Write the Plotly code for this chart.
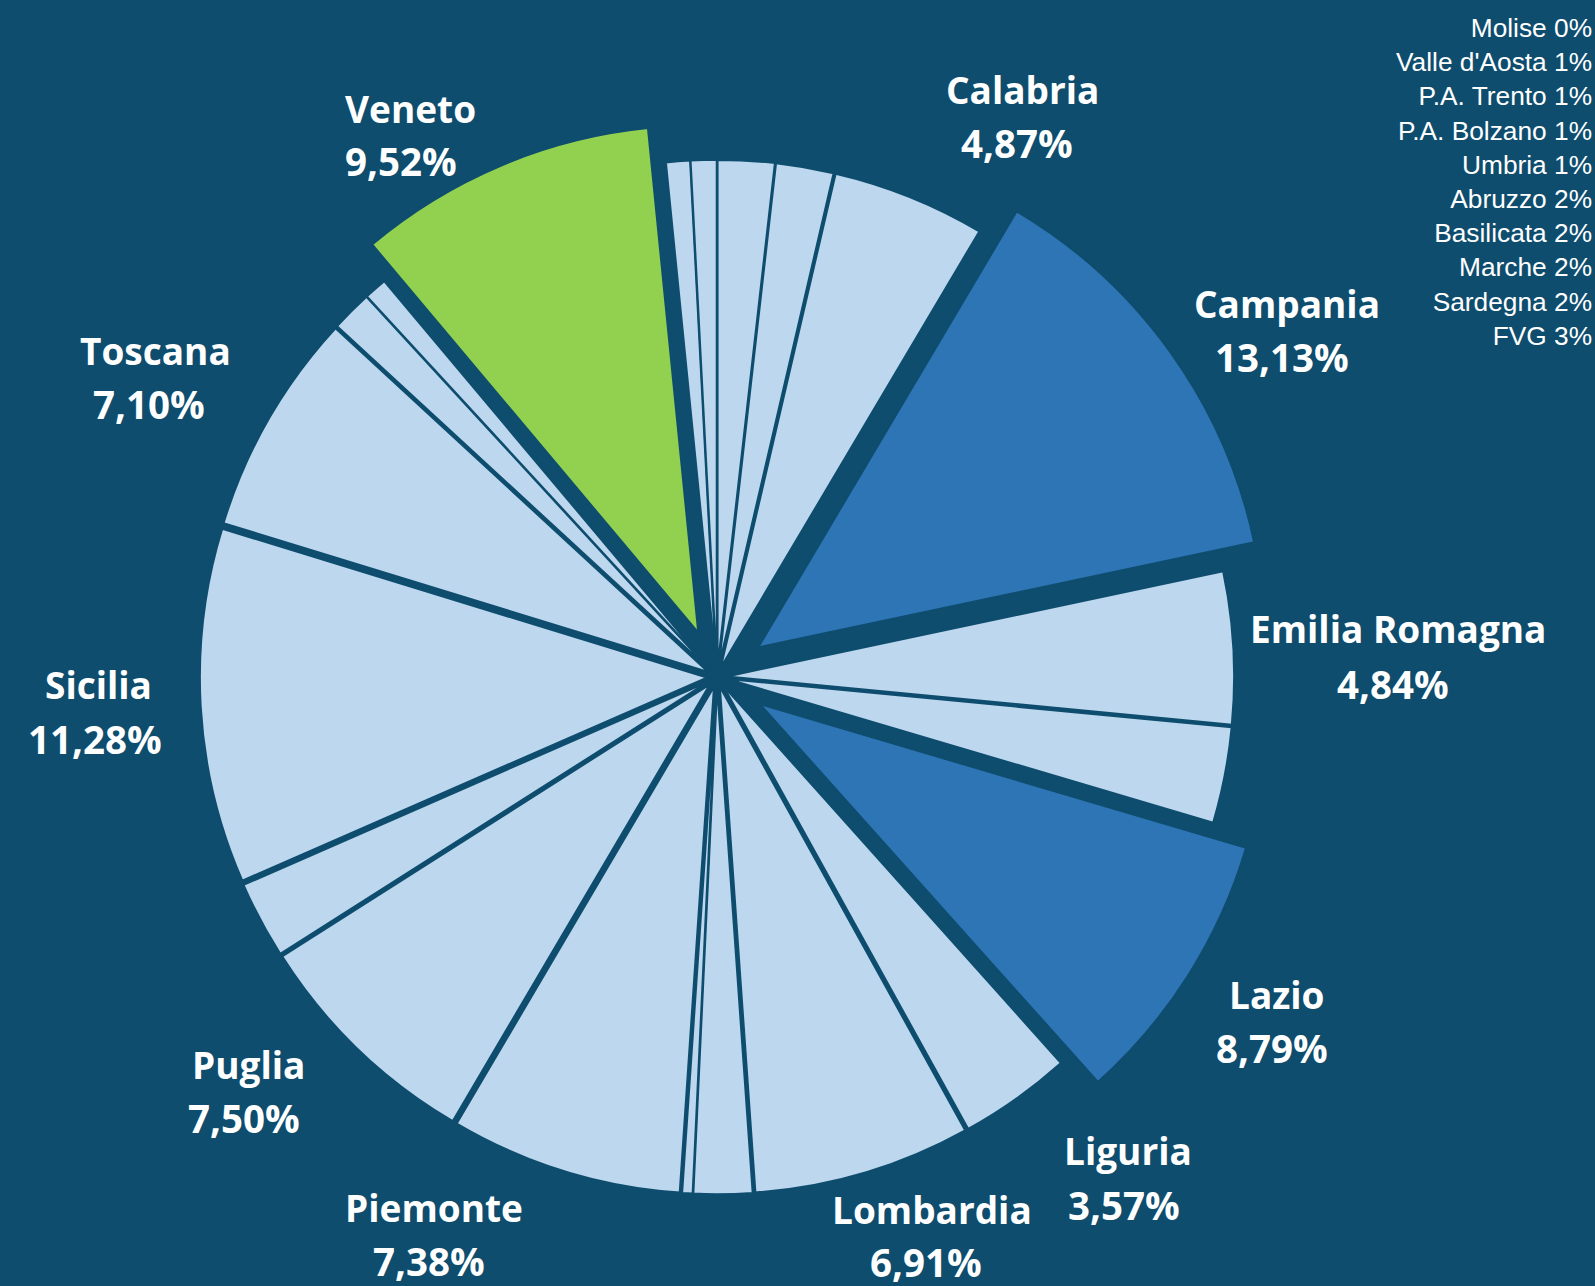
import plotly.graph_objects as go

# ---- data (clockwise from 12 o'clock) ----
regions = ["Abruzzo", "Basilicata", "Calabria", "Campania", "Emilia Romagna", "FVG",
           "Lazio", "Liguria", "Lombardia", "Marche", "Molise", "Piemonte", "Puglia",
           "Sardegna", "Sicilia", "Toscana", "Umbria", "Valle d'Aosta", "Veneto",
           "P.A. Trento", "P.A. Bolzano"]
shares = [1.80, 1.83, 4.87, 13.13, 4.84, 3.05,
          8.79, 3.57, 6.91, 1.86, 0.33, 7.38, 7.50,
          2.45, 11.28, 7.10, 1.30, 0.72, 9.52,
          0.76, 0.82]
labelled = ["Calabria", "Campania", "Emilia Romagna", "Lazio", "Liguria", "Lombardia",
            "Piemonte", "Puglia", "Sicilia", "Toscana", "Veneto"]
dark_blue = ["Campania", "Lazio"]
green = ["Veneto"]

# ---- styles ----
BG = "#0e4d6e"
LIGHT = "#bdd7ee"
MID = "#2e75b6"
GREEN = "#92d050"
W, H = 1595, 1286

colors = [MID if r in dark_blue else GREEN if r in green else LIGHT for r in regions]
pulls = [0.1 if r in dark_blue else 0.095 if r in green else 0.02 for r in regions]

# pie geometry (pixels)
cx, cy, r = 717, 677, 507
half = r * (1 + max(pulls))
dom_x = [(cx - half) / W, (cx + half) / W]
dom_y = [1 - (cy + half) / H, 1 - (cy - half) / H]

fig = go.Figure(go.Pie(
    labels=regions, values=shares, sort=False, direction="clockwise", rotation=0,
    marker=dict(colors=colors, line=dict(color=BG, width=2)),
    pull=pulls, textinfo="none", hoverinfo="label+percent",
    domain=dict(x=dom_x, y=dom_y), showlegend=False,
))

# label placement (pixel centres: x name, y name, x pct, y pct)
label_pos = {
    "Calabria": (1022, 90, 1017, 143),
    "Campania": (1287, 303, 1282, 357),
    "Emilia Romagna": (1398, 628, 1393, 684),
    "Lazio": (1277, 994, 1272, 1048),
    "Liguria": (1128, 1150, 1124, 1205),
    "Lombardia": (932, 1209, 926, 1262),
    "Piemonte": (434, 1207, 429, 1261),
    "Puglia": (248, 1064, 244, 1118),
    "Sicilia": (98, 684, 95, 739),
    "Toscana": (155, 350, 149, 404),
    "Veneto": (410, 108, 401, 161),
}
name_font = dict(family="Open Sans", size=37, color="white")
pct_font = dict(family="Open Sans", size=38.5, color="white")
annotations = []
for reg in labelled:
    v = shares[regions.index(reg)]
    xn, yn, xp, yp = label_pos[reg]
    pct = f"{v:.2f}".replace(".", ",") + "%"
    annotations.append(dict(x=xn / W, y=1 - yn / H, xref="paper", yref="paper",
                            text=f"<b>{reg}</b>", showarrow=False, font=name_font,
                            xanchor="center", yanchor="middle"))
    annotations.append(dict(x=xp / W, y=1 - yp / H, xref="paper", yref="paper",
                            text=f"<b>{pct}</b>", showarrow=False, font=pct_font,
                            xanchor="center", yanchor="middle"))

# small regions list (top right), sorted by share
small = [(reg, v) for reg, v in zip(regions, shares) if reg not in labelled]
small_sorted = sorted(small, key=lambda t: t[1])
small_text = "<br>".join(f"{reg} {round(v)}%" for reg, v in small_sorted)
annotations.append(dict(x=1594 / W, y=1 - 11 / H, xref="paper", yref="paper",
                        text=small_text, showarrow=False, align="right",
                        xanchor="right", yanchor="top",
                        font=dict(family="Liberation Sans", size=26.3, color="white")))

fig.update_layout(
    width=W, height=H, paper_bgcolor=BG, plot_bgcolor=BG,
    margin=dict(l=0, r=0, t=0, b=0), annotations=annotations,
)
fig.write_html("out.html")
